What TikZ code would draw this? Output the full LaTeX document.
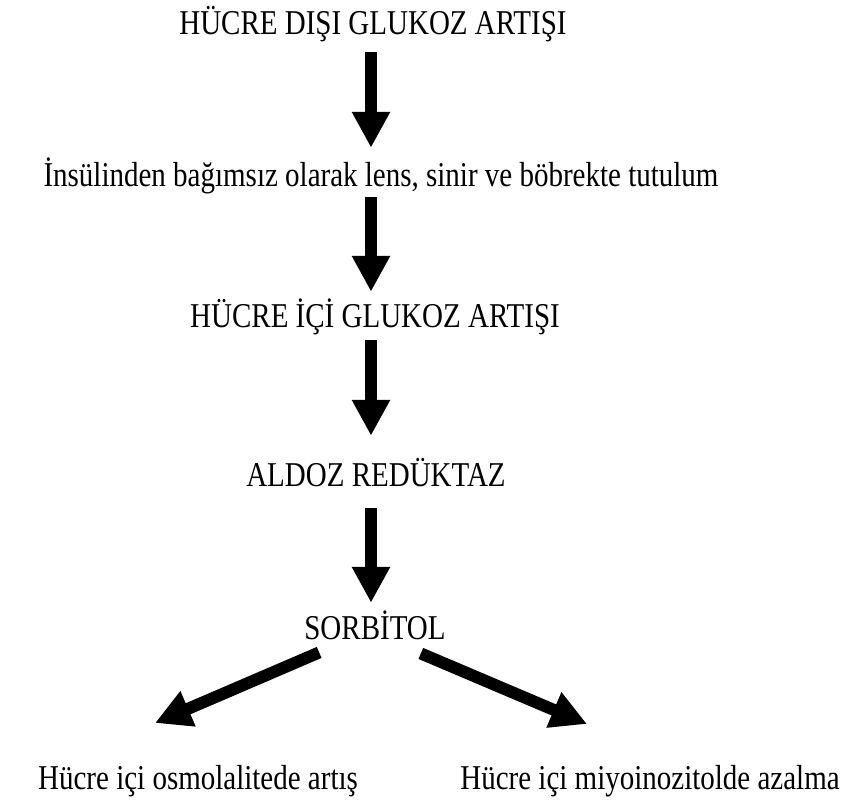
\documentclass[tikz,border=0pt]{standalone}
\usepackage{fontspec}
\setmainfont{Liberation Serif}
\usetikzlibrary{arrows.meta}
\begin{document}
\begin{tikzpicture}[x=1pt, y=-1pt]
	\tikzstyle{txt} = [anchor=base, inner sep=0pt, text height=20pt, text depth=6pt, yscale=1.2, transform shape, font=\fontsize{29}{34}\selectfont]
	\tikzstyle{thick arrow} = [line width=12pt, -{Triangle[width=36pt, length=36pt]}]

	\useasboundingbox (0,0) rectangle (843,802);

	% Define nodes
	\node[txt] (dis) at (373,35) {HÜCRE DIŞI GLUKOZ ARTIŞI};
	\node[txt] (insulin) at (381,187) {İnsülinden bağımsız olarak lens, sinir ve böbrekte tutulum};
	\node[txt] (ic) at (375,327) {HÜCRE İÇİ GLUKOZ ARTIŞI};
	\node[txt] (aldoz) at (376,486) {ALDOZ REDÜKTAZ};
	\node[txt] (sorbitol) at (375,639) {SORBİTOL};
	\node[txt] (osmol) at (198,789) {Hücre içi osmolalitede artış};
	\node[txt] (miyo) at (650,789) {Hücre içi miyoinozitolde azalma};

	\coordinate (axis) at (371,0);
	\coordinate (ltip) at (155,723);
	\coordinate (rtip) at (587,724);

	% Draw arrows
	\draw[thick arrow, shorten <=10pt, shorten >=15pt] (dis.south -| axis) -- (insulin.north -| axis);
	\draw[thick arrow, shorten <=3pt, shorten >=11pt] (insulin.south -| axis) -- (ic.north -| axis);
	\draw[thick arrow, shorten <=6pt, shorten >=26pt] (ic.south -| axis) -- (aldoz.north -| axis);
	\draw[thick arrow, shorten <=15pt, shorten >=12pt] (aldoz.south -| axis) -- (sorbitol.north -| axis);
	\draw[thick arrow] ([xshift=15pt, yshift=-6pt]sorbitol.south west) -- (ltip);
	\draw[thick arrow] ([xshift=-25pt, yshift=-7pt]sorbitol.south east) -- (rtip);

\end{tikzpicture}
\end{document}
